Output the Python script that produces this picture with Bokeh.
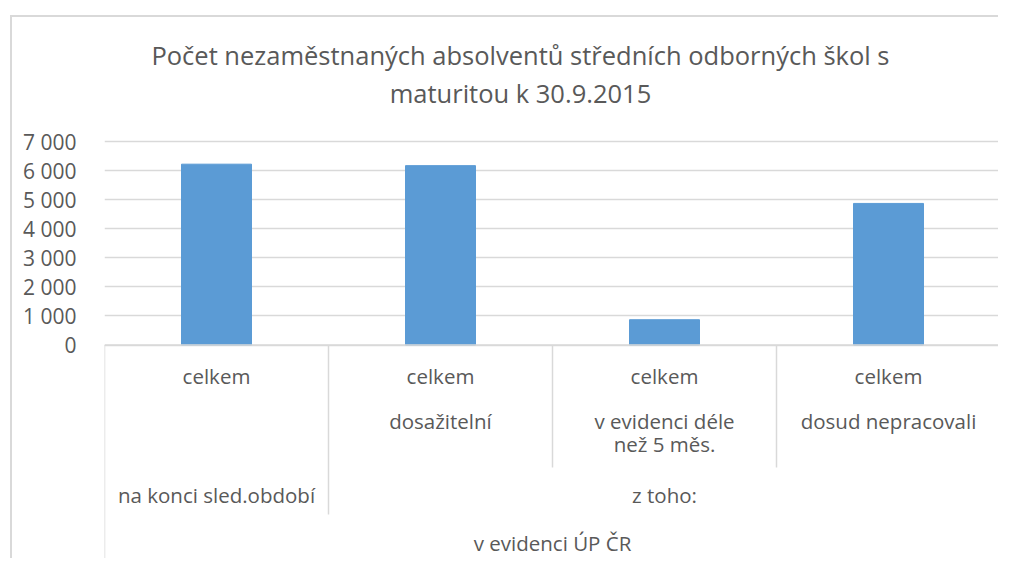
from bokeh.plotting import figure
from bokeh.models import Range1d, FactorRange, FixedTicker
from bokeh.core.properties import value
from bokeh.embed import file_html
from bokeh.resources import INLINE

# ---- data ----
title_lines = ["Počet nezaměstnaných absolventů středních odborných škol s",
               "maturitou k 30.9.2015"]
categories = ["celkem", "celkem dosažitelní",
              "celkem v evidenci déle než 5 měs.", "celkem dosud nepracovali"]
level1_top = ["celkem", "celkem", "celkem", "celkem"]
level1_sub = ["", "dosažitelní", "v evidenci déle\nnež 5 měs.", "dosud nepracovali"]
level2_labels = ["na konci sled.období", "z toho:"]
level2_spans = [1, 3]
level3_label = "v evidenci ÚP ČR"
values = [6220, 6170, 870, 4870]
y_ticks = [0, 1000, 2000, 3000, 4000, 5000, 6000, 7000]
y_tick_labels = ["0", "1 000", "2 000", "3 000", "4 000", "5 000", "6 000", "7 000"]

FONT = "Open Sans"
TXT = "#595959"
LINE = "#D9D9D9"
BAR = "#5B9BD5"

# canvas origin on the page (after margin + border)
OX, OY = 12, 17
frame_left, frame_right = 104, 1000
top_px, bot_px = OY, 560
zero_px, max_px = 344.5, 141.0
s = (zero_px - max_px) / 7000.0
y_top = 7000 + (max_px - top_px) / s
y_bot = -(bot_px - zero_px) / s
DY = -2.5  # baseline correction for text

p = figure(width=frame_right - OX, height=bot_px - OY,
           output_backend="svg", toolbar_location=None,
           x_range=FactorRange(*categories, range_padding=0),
           y_range=Range1d(y_bot, y_top),
           min_border_left=frame_left - OX, min_border_right=0,
           min_border_top=0, min_border_bottom=0,
           margin=(15, 0, 0, 10),
           styles={"border-left": "2px solid #D9D9D9", "border-top": "2px solid #D9D9D9"})
p.extra_y_ranges = {"px": Range1d(start=bot_px, end=top_px)}
p.outline_line_color = None
p.xaxis.visible = False
p.xgrid.visible = False

ax = p.yaxis[0]
ax.ticker = FixedTicker(ticks=y_ticks)
ax.major_label_overrides = {t: l for t, l in zip(y_ticks, y_tick_labels)}
ax.axis_line_color = None
ax.major_tick_line_color = None
ax.minor_tick_line_color = None
ax.major_label_standoff = 22
ax.major_label_text_font = FONT
ax.major_label_text_font_size = "21px"
ax.major_label_text_color = TXT
p.ygrid.grid_line_color = LINE
p.ygrid.grid_line_width = 1.3

# bars
p.vbar(x=categories, top=values, width=0.3125, bottom=0, fill_color=BAR, line_color=BAR)

# title
p.text(x=[1.857, 1.857], y=[57 + DY - 0.5, 95 + DY - 0.5], text=title_lines, y_range_name="px",
       text_font=value(FONT), text_font_size="25.5px", text_color=TXT,
       text_align="center", text_baseline="middle")

# category axis lines
n = len(categories)
p.segment(x0=[0], x1=[n], y0=[zero_px], y1=[zero_px], y_range_name="px",
          line_color=LINE, line_width=1.5)
bounds = [0]
for sp in level2_spans:
    bounds.append(bounds[-1] + sp)
vx = list(range(n + 1))
vy1 = []
for b in vx:
    if b == 0 or b == n:
        vy1.append(bot_px)
    elif b in bounds:
        vy1.append(514)
    else:
        vy1.append(467)
p.segment(x0=vx, x1=vx, y0=[zero_px] * len(vx), y1=vy1, y_range_name="px",
          line_color=LINE, line_width=1.5)

common = dict(y_range_name="px", text_font=value(FONT), text_font_size="20.5px",
              text_color=TXT, text_align="center", text_baseline="middle")

# level 1 labels
p.text(x=categories, y=[378 + DY] * n, text=level1_top, **common)
sub_lines = [t.split("\n") for t in level1_sub]
for k in range(max(len(ls) for ls in sub_lines)):
    xs = [c for c, ls in zip(categories, sub_lines) if len(ls) > k and ls[k]]
    ts = [ls[k] for ls in sub_lines if len(ls) > k and ls[k]]
    p.text(x=xs, y=[423 + 23 * k + DY] * len(xs), text=ts, **common)

# level 2 labels
l2x = [(bounds[i] + bounds[i + 1]) / 2 for i in range(len(level2_labels))]
p.text(x=l2x, y=[497 + DY] * len(l2x), text=level2_labels, **common)

# level 3 label
p.text(x=[n / 2], y=[545 + DY], text=[level3_label], **common)

open("out.html", "w").write(file_html(p, INLINE))
